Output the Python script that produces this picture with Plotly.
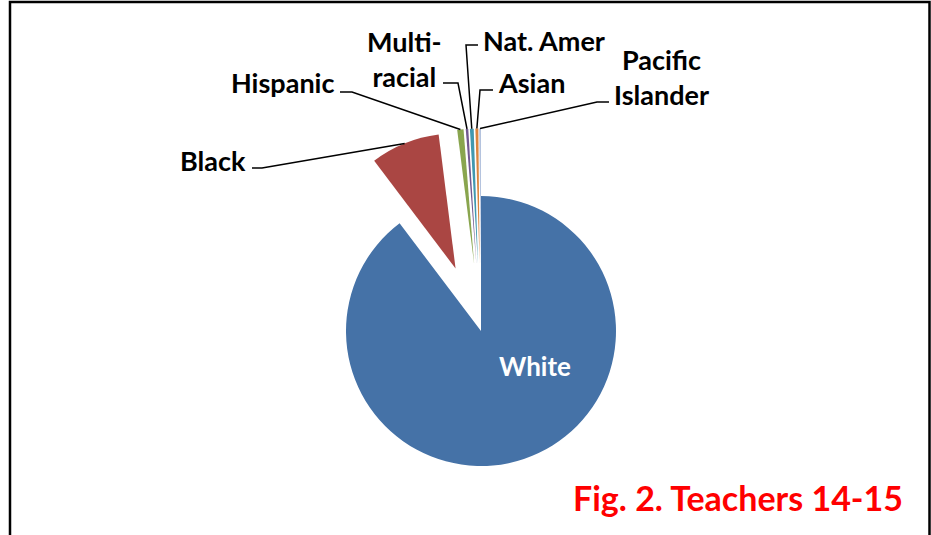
import math
import plotly.graph_objects as go

# ---- data ----
categories = ["White", "Black", "Hispanic", "Multi-racial", "Nat. Amer", "Asian", "Pacific Islander"]
values = [89.7, 8.3, 0.75, 0.3, 0.45, 0.35, 0.15]
label_texts = ["White", "Black", "Hispanic", "Multi-<br>racial", "Nat. Amer", "Asian", "Pacific<br>Islander"]
colors = ["#4572A7", "#AA4643", "#89A54E", "#71588F", "#4198AF", "#DB843D", "#93A9CF"]
pulls = [0, 0.5, 0.5, 0.5, 0.5, 0.5, 0.5]
title_text = "Fig. 2. Teachers 14-15"

# ---- layout geometry (pixels) ----
W, H = 931, 535
CX, CY, R = 481, 331, 135
max_pull = max(pulls)
half = R * (1 + max_pull)


def fx(x):
    return x / W


def fy(y):
    return 1 - y / H


dom_x = [fx(CX - half), fx(CX + half)]
y0 = 1 - (CY + half) / H
dom_y = [y0, y0 + 2 * half / H]

fig = go.Figure(go.Pie(
    labels=categories,
    values=values,
    sort=False,
    direction="clockwise",
    rotation=0,
    pull=pulls,
    marker=dict(colors=colors, line=dict(width=0)),
    textinfo="none",
    hoverinfo="label+percent",
    domain=dict(x=dom_x, y=dom_y),
    showlegend=False,
))

# slice outer-mid points derived from the data
total = sum(values)
cum = 0
mid_pts = []
for v, p in zip(values, pulls):
    a0 = cum / total * 2 * math.pi
    cum += v
    a1 = cum / total * 2 * math.pi
    m = (a0 + a1) / 2
    d = R * (1 + p)
    mid_pts.append((CX + d * math.sin(m), CY - d * math.cos(m)))

# label placement (layout): x, y, xanchor, leader start, elbow
label_layout = {
    "Black": (248, 160, "right", (252, 168), (262, 168)),
    "Hispanic": (336, 83, "right", (340, 92), (352, 92)),
    "Multi-racial": (404, 59, "center", (443, 83), (458, 83)),
    "Nat. Amer": (481, 40, "left", (478, 45), (466, 45)),
    "Asian": (496, 82, "left", (493, 90), (480, 90)),
    "Pacific Islander": (661, 77, "center", (609, 102), (597, 102)),
}

font_family = "Lato"
annotations = []
shapes = []
for cat, txt, pt in zip(categories, label_texts, mid_pts):
    if cat == "White":
        annotations.append(dict(
            x=fx(535), y=fy(366), xref="paper", yref="paper", text="<b>%s</b>" % txt,
            showarrow=False, xanchor="center", yanchor="middle",
            font=dict(family=font_family, size=26, color="white")))
        continue
    lx, ly, anc, st, el = label_layout[cat]
    annotations.append(dict(
        x=fx(lx), y=fy(ly), xref="paper", yref="paper", text="<b>%s</b>" % txt,
        showarrow=False, xanchor=anc, yanchor="middle", align="center",
        font=dict(family=font_family, size=27, color="black")))
    path = "M %f,%f L %f,%f L %f,%f" % (fx(st[0]), fy(st[1]), fx(el[0]), fy(el[1]), fx(pt[0]), fy(pt[1]))
    shapes.append(dict(type="path", xref="paper", yref="paper", path=path,
                       line=dict(color="black", width=1.5)))

annotations.append(dict(
    x=fx(905), y=fy(497), xref="paper", yref="paper", text="<b>%s</b>" % title_text,
    showarrow=False, xanchor="right", yanchor="middle",
    font=dict(family=font_family, size=34, color="#FF0000")))

# frame
frame = "M %f,%f L %f,%f L %f,%f L %f,%f" % (fx(10), fy(540), fx(10), fy(2), fx(929.5), fy(2), fx(929.5), fy(540))
shapes.append(dict(type="path", xref="paper", yref="paper", path=frame,
                   line=dict(color="black", width=2.5)))

fig.update_layout(
    width=W, height=H,
    margin=dict(l=0, r=0, t=0, b=0),
    paper_bgcolor="white", plot_bgcolor="white",
    annotations=annotations, shapes=shapes,
)

fig.write_html(
    "out.html",
    config={"displayModeBar": False},
    post_script="document.body.style.margin='0';document.body.style.overflow='hidden';",
)
